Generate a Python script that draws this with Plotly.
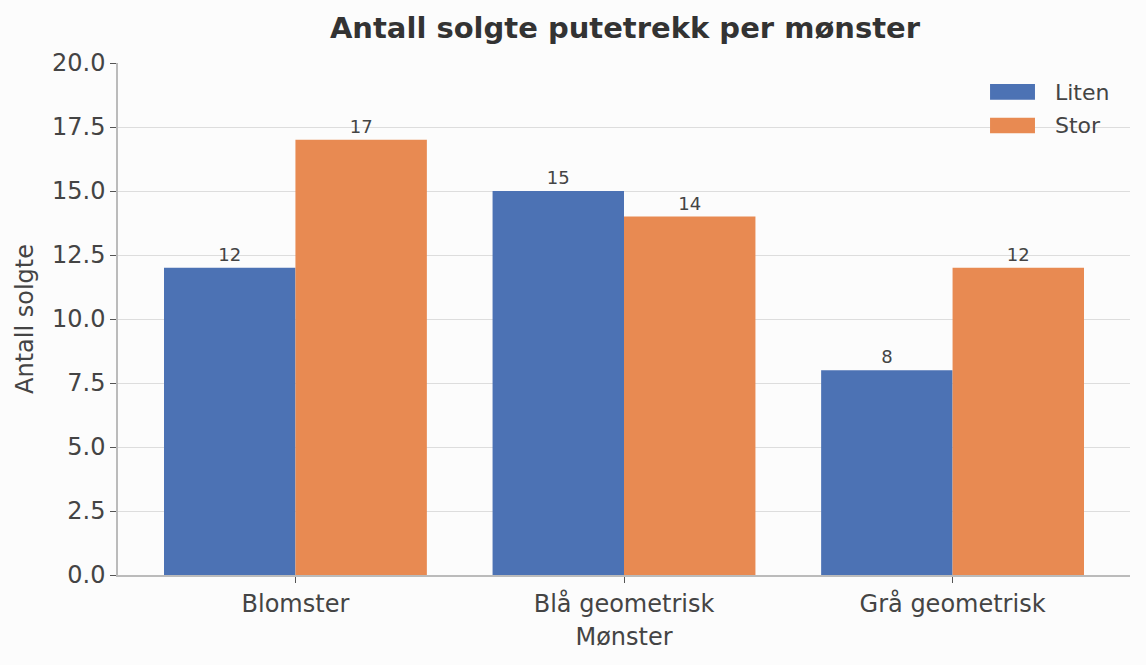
import plotly.graph_objects as go

categories = ["Blomster", "Blå geometrisk", "Grå geometrisk"]
liten = [12, 15, 8]
stor = [17, 14, 12]
series_names = ["Liten", "Stor"]
colors = ["#4C72B4", "#E88A52"]
y_ticks = [0, 2.5, 5, 7.5, 10, 12.5, 15, 17.5, 20]

fig = go.Figure()
for name, vals, col in zip(series_names, [liten, stor], colors):
    fig.add_trace(go.Bar(
        x=categories, y=vals, name=name, marker=dict(color=col, line=dict(width=0)),
        text=[str(v) for v in vals], textposition="outside",
        textfont=dict(size=18, color="#444444", family="DejaVu Sans"),
        cliponaxis=False, showlegend=False,
    ))

# custom legend (larger swatches like the reference)
legend_y = [(0.959, 0.928, 0.943), (0.893, 0.863, 0.877)]
for name, col, (y1, y0, yc) in zip(series_names, colors, legend_y):
    fig.add_shape(type="rect", xref="paper", yref="paper", x0=0.8617, x1=0.9061,
                  y0=y0, y1=y1, fillcolor=col, line=dict(width=0))
    fig.add_annotation(xref="paper", yref="paper", x=0.924, y=yc, xanchor="left",
                       yanchor="middle", text=name, showarrow=False,
                       font=dict(size=22, color="#444444"))

fig.update_layout(
    barmode="group", bargap=0.2, bargroupgap=0,
    width=1146, height=665,
    margin=dict(l=118, r=16, t=63, b=90),
    paper_bgcolor="#fcfcfc", plot_bgcolor="#fcfcfc",
    font=dict(family="DejaVu Sans", color="#444444", size=24),
    title=dict(text="<b>Antall solgte putetrekk per mønster</b>", x=625/1146, xanchor="center",
               y=1 - 28/665, yanchor="middle", font=dict(size=29, color="#333333")),
    showlegend=False,
)
fig.update_xaxes(
    range=[-0.54, 2.54], showgrid=False, showline=True, linecolor="#bbbbbb", linewidth=1.5,
    ticks="outside", ticklen=6, tickcolor="#555555", tickwidth=1.2,
    tickfont=dict(size=24, color="#444444"),
    title=dict(text="Mønster", font=dict(size=24, color="#444444"), standoff=12),
)
fig.update_yaxes(
    range=[0, 20], tickvals=y_ticks, ticktext=[f"{v:.1f}" for v in y_ticks],
    showgrid=True, gridcolor="#dddddd", gridwidth=1.2, zeroline=False,
    showline=True, linecolor="#bbbbbb", linewidth=1.5,
    ticks="outside", ticklen=6, tickcolor="#555555", tickwidth=1.2,
    tickfont=dict(size=24, color="#444444"),
    title=dict(text="Antall solgte", font=dict(size=24, color="#444444"), standoff=12),
)
fig.write_html("out.html")
